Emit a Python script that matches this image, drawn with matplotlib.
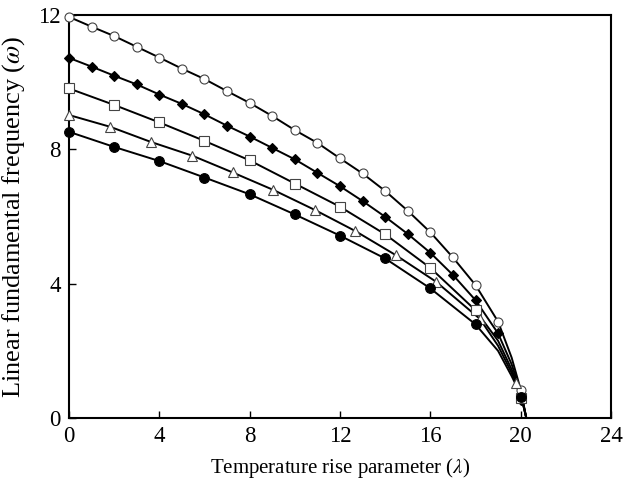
import numpy as np
import matplotlib
matplotlib.use('Agg')
import matplotlib.pyplot as plt

plt.rcParams['font.family'] = ['Liberation Serif', 'DejaVu Serif']
plt.rcParams['mathtext.fontset'] = 'stix'

lam_1 = [0, 1, 2, 3, 4, 5, 6, 7, 8, 9, 10, 11, 12, 13, 14, 15, 16, 17, 18, 19, 20]
lam_2 = [0, 2, 4, 6, 8, 10, 12, 14, 16, 18, 20]
lam_tri = [0, 1.82, 3.62, 5.46, 7.25, 9.05, 10.9, 12.67, 14.47, 16.25, 18.2, 19.8]

w_circ_open = [11.94, 11.65, 11.37, 11.05, 10.73, 10.40, 10.09, 9.73, 9.38, 8.99, 8.57,
               8.19, 7.73, 7.28, 6.76, 6.17, 5.53, 4.78, 3.96, 2.87, 0.83]
w_diamond = [10.72, 10.46, 10.19, 9.93, 9.63, 9.35, 9.04, 8.70, 8.38, 8.04, 7.70,
             7.30, 6.90, 6.46, 5.99, 5.48, 4.92, 4.26, 3.51, 2.52, 0.55]
w_square = [9.81, 9.32, 8.80, 8.25, 7.67, 6.98, 6.29, 5.47, 4.47, 3.21, 0.6]
w_tri = [9.02, 8.67, 8.22, 7.81, 7.31, 6.79, 6.19, 5.57, 4.85, 4.06, 2.95, 1.03]
w_circ_fill = [8.52, 8.07, 7.65, 7.16, 6.66, 6.06, 5.43, 4.75, 3.86, 2.79, 0.63]

# curve (no marker) points read near the end, where all curves meet at zero
tail_lam = [19.0, 19.6, 20.0, 20.25]
tail_circ_open = [2.87, 1.8, 0.85, 0.0]
tail_diamond = [2.52, 1.6, 0.8, 0.0]
tail_square = [2.3, 1.45, 0.75, 0.0]
tail_tri = [2.15, 1.35, 0.75, 0.0]
tail_circ_fill = [2.0, 1.25, 0.7, 0.0]

series = [
    (lam_1, w_circ_open, tail_circ_open, 'o', 'white', 6.5),
    (lam_1, w_diamond, tail_diamond, 'D', 'black', 5.5),
    (lam_2, w_square, tail_square, 's', 'white', 7.5),
    (lam_tri, w_tri, tail_tri, '^', 'white', 7),
    (lam_2, w_circ_fill, tail_circ_fill, 'o', 'black', 7),
]

fig = plt.figure(figsize=(6.27, 4.8), dpi=100)
ax = fig.add_axes([0.110, 0.129, 0.8645, 0.840])

for x, y, tail, m, fc, ms in series:
    # curve: marker points up to lambda=18.5, then the read tail
    cx = [a for a in x if a < 18.5] + tail_lam
    cy = [b for a, b in zip(x, y) if a < 18.5] + tail
    ax.plot(cx, cy, color='black', lw=1.4, zorder=2)
    ec = 'black' if fc == 'black' else '#444444'
    ax.plot(x, y, ls='none', marker=m, ms=ms, mfc=fc, mec=ec, mew=0.8, zorder=3,
            clip_on=False)

ax.set_xlim(0, 24)
ax.set_ylim(0, 12)
ax.set_xticks([0, 4, 8, 12, 16, 20, 24])
ax.set_yticks([0, 4, 8, 12])
ax.tick_params(direction='in', length=5, width=1, labelsize=16.5, pad=6)
for s in ax.spines.values():
    s.set_linewidth(1.5)

ax.set_xlabel(r'Temperature rise parameter ($\it{\lambda}$)', fontsize=15, labelpad=6)
ax.set_ylabel(r'Linear fundamental frequency ($\it{\omega}$)', fontsize=19, labelpad=8)

fig.savefig('out.png', dpi=100)
